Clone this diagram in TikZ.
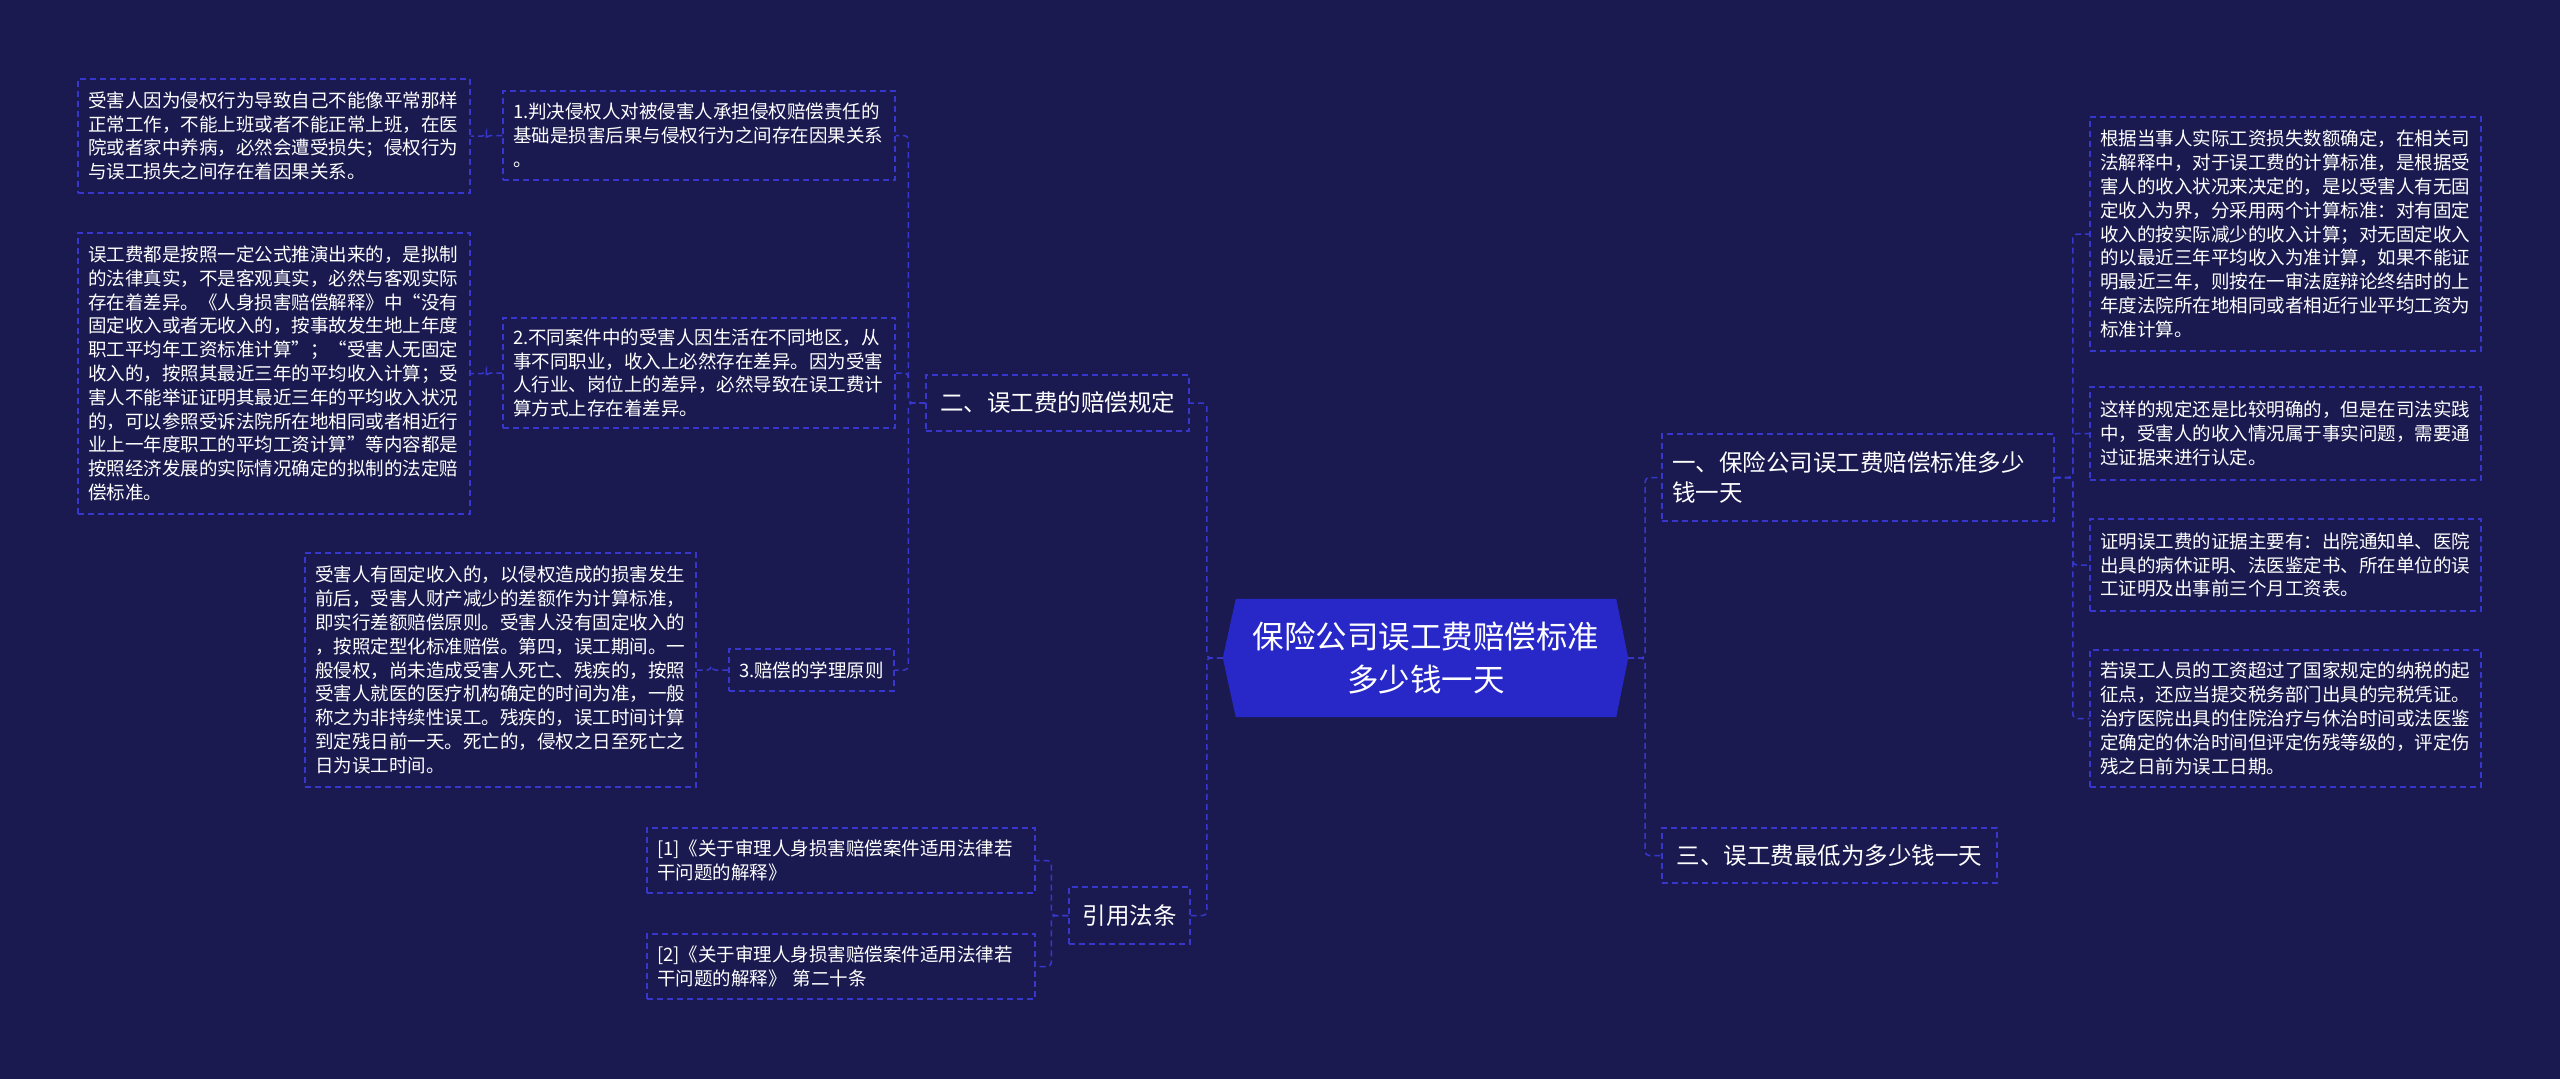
\documentclass[tikz,border=0pt]{standalone}
\usepackage{fontspec}
\setmainfont{Noto Sans CJK SC}
\usetikzlibrary{backgrounds}
\definecolor{bgc}{RGB}{26,26,80}
\definecolor{dashc}{RGB}{55,55,205}
\definecolor{mainc}{RGB}{40,40,200}
\begin{document}
\begin{tikzpicture}[x=1pt,y=-1pt,
  box/.style={draw=dashc, line width=1.5pt, dash pattern=on 6pt off 4pt, text=white, align=left, inner xsep=10pt, inner ysep=0pt, anchor=center},
  small/.style={box, font=\fontsize{18.5}{23.8}\selectfont},
  mid/.style={box, font=\fontsize{23.5}{30}\selectfont},
  conn/.style={draw=dashc, line width=1.5pt, dash pattern=on 6pt off 4pt, rounded corners=4pt},
  centre/.style={text=white, align=center, inner sep=0pt, font=\fontsize{31.5}{43}\selectfont, minimum width=380pt, minimum height=118pt},
]
\useasboundingbox (0,0) rectangle (2560,1079);
\begin{scope}[on background layer]
  \fill[bgc] (0,0) rectangle (2560,1079);
\end{scope}

% centre
\node[centre] (c) at (1426,658) {保险公司误工费赔偿标准\\多少钱一天};
\coordinate (cw) at ([xshift=-13pt]c.west);
\coordinate (ce) at ([xshift=12pt]c.east);
\begin{scope}[on background layer]
  \fill[mainc] (c.north west) -- (c.north east) -- (ce) -- (c.south east) -- (c.south west) -- (cw) -- cycle;
\end{scope}

% left branch
\node[mid, minimum width=263pt, minimum height=56pt] (b) at (1057.5,403) {二、误工费的赔偿规定};
\node[small, minimum width=392pt, minimum height=89pt, text width=372pt] (a2) at (699,135.5) {1.判决侵权人对被侵害人承担侵权赔偿责任的\\基础是损害后果与侵权行为之间存在因果关系\\。};
\node[small, minimum width=392pt, minimum height=114pt, text width=372pt] (a1) at (274,136) {受害人因为侵权行为导致自己不能像平常那样\\正常工作，不能上班或者不能正常上班，在医\\院或者家中养病，必然会遭受损失；侵权行为\\与误工损失之间存在着因果关系。};
\node[small, minimum width=392pt, minimum height=110pt, text width=372pt] (a4) at (699,373) {2.不同案件中的受害人因生活在不同地区，从\\事不同职业，收入上必然存在差异。因为受害\\人行业、岗位上的差异，必然导致在误工费计\\算方式上存在着差异。};
\node[small, minimum width=392pt, minimum height=281pt, text width=372pt] (a3) at (274,373.5) {误工费都是按照一定公式推演出来的，是拟制\\的法律真实，不是客观真实，必然与客观实际\\存在着差异。《人身损害赔偿解释》中“没有\\固定收入或者无收入的，按事故发生地上年度\\职工平均年工资标准计算”；“受害人无固定\\收入的，按照其最近三年的平均收入计算；受\\害人不能举证证明其最近三年的平均收入状况\\的，可以参照受诉法院所在地相同或者相近行\\业上一年度职工的平均工资计算”等内容都是\\按照经济发展的实际情况确定的拟制的法定赔\\偿标准。};
\node[small, minimum width=163pt, minimum height=42pt] (p3) at (811.5,670) {3.赔偿的学理原则};
\node[small, minimum width=391pt, minimum height=234pt, text width=371pt] (a5) at (500.5,670) {受害人有固定收入的，以侵权造成的损害发生\\前后，受害人财产减少的差额作为计算标准，\\即实行差额赔偿原则。受害人没有固定收入的\\，按照定型化标准赔偿。第四，误工期间。一\\般侵权，尚未造成受害人死亡、残疾的，按照\\受害人就医的医疗机构确定的时间为准，一般\\称之为非持续性误工。残疾的，误工时间计算\\到定残日前一天。死亡的，侵权之日至死亡之\\日为误工时间。};

\node[mid, minimum width=121pt, minimum height=57pt] (cite) at (1129.5,915.5) {引用法条};
\node[small, minimum width=388pt, minimum height=65pt, text width=368pt] (r1) at (841,860.5) {[1]《关于审理人身损害赔偿案件适用法律若\\干问题的解释》};
\node[small, minimum width=388pt, minimum height=65pt, text width=368pt] (r2) at (841,966.5) {[2]《关于审理人身损害赔偿案件适用法律若\\干问题的解释》 第二十条};

% right branch
\node[mid, minimum width=392pt, minimum height=87pt, text width=372pt] (c1) at (1858,477.5) {一、保险公司误工费赔偿标准多少\\钱一天};
\node[mid, minimum width=335pt, minimum height=55pt] (c2) at (1829.5,855.5) {三、误工费最低为多少钱一天};
\node[small, minimum width=391pt, minimum height=234pt, text width=371pt] (d1) at (2285.5,234) {根据当事人实际工资损失数额确定，在相关司\\法解释中，对于误工费的计算标准，是根据受\\害人的收入状况来决定的，是以受害人有无固\\定收入为界，分采用两个计算标准：对有固定\\收入的按实际减少的收入计算；对无固定收入\\的以最近三年平均收入为准计算，如果不能证\\明最近三年，则按在一审法庭辩论终结时的上\\年度法院所在地相同或者相近行业平均工资为\\标准计算。};
\node[small, minimum width=391pt, minimum height=93pt, text width=371pt] (d2) at (2285.5,433.5) {这样的规定还是比较明确的，但是在司法实践\\中，受害人的收入情况属于事实问题，需要通\\过证据来进行认定。};
\node[small, minimum width=391pt, minimum height=92pt, text width=371pt] (d3) at (2285.5,565) {证明误工费的证据主要有：出院通知单、医院\\出具的病休证明、法医鉴定书、所在单位的误\\工证明及出事前三个月工资表。};
\node[small, minimum width=391pt, minimum height=137pt, text width=371pt] (d4) at (2285.5,718.5) {若误工人员的工资超过了国家规定的纳税的起\\征点，还应当提交税务部门出具的完税凭证。\\治疗医院出具的住院治疗与休治时间或法医鉴\\定确定的休治时间但评定伤残等级的，评定伤\\残之日前为误工日期。};

% connectors
\draw[conn] (cw) -- ++(-16,0) |- (b.east);
\draw[conn] (cw) -- ++(-16,0) |- (cite.east);
\draw[conn] (b.west) -- ++(-17,0) |- (a2.east);
\draw[conn] (b.west) -- ++(-17,0) |- (a4.east);
\draw[conn] (b.west) -- ++(-17,0) |- (p3.east);
\draw[conn] (a2.west) -- ++(-16,0) |- (a1.east);
\draw[conn] (a4.west) -- ++(-16,0) |- (a3.east);
\draw[conn] (p3.west) -- ++(-17,0) |- (a5.east);
\draw[conn] (cite.west) -- ++(-17,0) |- (r1.east);
\draw[conn] (cite.west) -- ++(-17,0) |- (r2.east);
\draw[conn] (ce) -- ++(17,0) |- (c1.west);
\draw[conn] (ce) -- ++(17,0) |- (c2.west);
\draw[conn] (c1.east) -- ++(18,0) |- (d1.west);
\draw[conn] (c1.east) -- ++(18,0) |- (d2.west);
\draw[conn] (c1.east) -- ++(18,0) |- (d3.west);
\draw[conn] (c1.east) -- ++(18,0) |- (d4.west);
\end{tikzpicture}
\end{document}
